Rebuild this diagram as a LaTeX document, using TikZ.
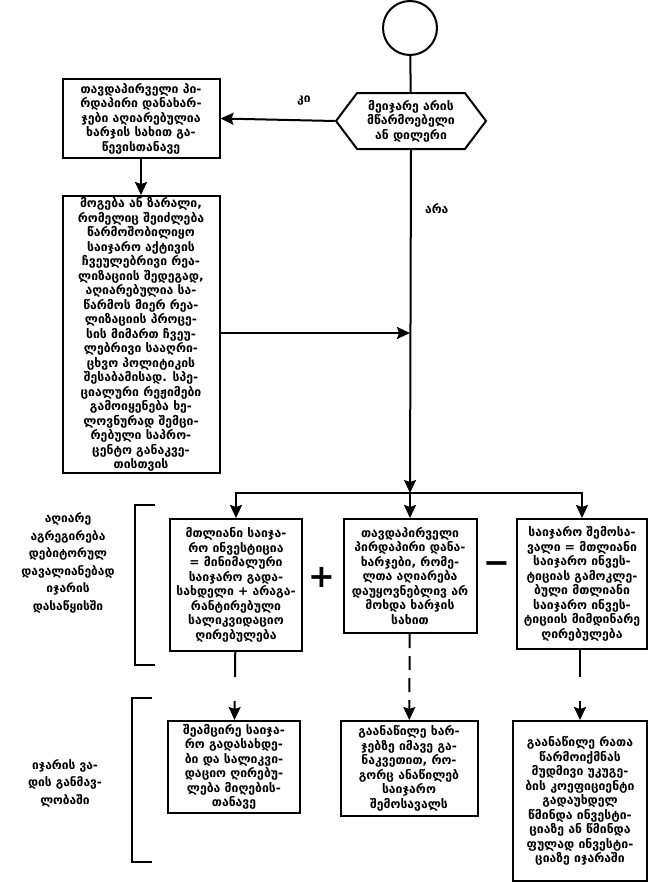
\documentclass[tikz,border=0pt]{standalone}
\usepackage{fontspec}
\newfontfamily\geo{DejaVu Sans}
\usetikzlibrary {arrows.meta,
                 positioning,
                 shapes.symbols}
\tikzset{
        base/.style={draw, line width=2pt, align=center, inner sep=1pt,
                     font=\geo\bfseries\fontsize{12.2}{14.5}\selectfont},
        proc/.style={base, rectangle, anchor=north},
        test/.style={base, signal, signal to=west and east,
                     signal pointer angle=106},
        term/.style={base, circle},
        note/.style={align=center, font=\geo\bfseries\fontsize{12}{17.5}\selectfont},
        sign/.style={font=\geo\bfseries\fontsize{32}{32}\selectfont, inner sep=0pt},
        myarrow/.style={-{Stealth[length=13pt, width=12pt, inset=2pt]}, line width=2pt},
        bracket/.style={line width=2pt},
 }
\begin{document}
\begin{tikzpicture}[x=1pt, y=-1pt]
    \useasboundingbox (0,0) rectangle (653,883);

    \node[term, minimum size=54pt] (start) at (410,28) {};
    \node[test, minimum width=150pt, minimum height=56pt] (lessor) at (411,121)
        {მეიჯარე არის\\მწარმოებელი\\ან დილერი};

    \node[proc, minimum width=157pt, minimum height=79pt] (costs) at (141,78)
        {თავდაპირველი პი-\\რდაპირი დანახარ-\\ჯები აღიარებულია\\ხარჯის სახით გა-\\წევისთანავე};
    \node[proc, minimum width=157pt, minimum height=277pt, below=36pt of costs] (profit)
        {მოგება ან ზარალი,\\რომელიც შეიძლება\\წარმოშობილიყო\\საიჯარო აქტივის\\ჩვეულებრივი რეა-\\ლიზაციის შედეგად,\\აღიარებულია სა-\\წარმოს მიერ რეა-\\ლიზაციის პროცე-\\სის მიმართ ჩვეუ-\\ლებრივი სააღრი-\\ცხვო პოლიტიკის\\შესაბამისად. სპე-\\ციალური რეჟიმები\\გამოიყენება ხე-\\ლოვნურად შემცი-\\რებული საპრო-\\ცენტო განაკვე-\\თისთვის};

    % middle row
    \node[proc, minimum width=132pt, minimum height=132pt] (total) at (236,518)
        {მთლიანი საიჯა-\\რო ინვესტიცია\\= მინიმალური\\საიჯარო გადა-\\სახდელი + არაგა-\\რანტირებული\\სალიკვიდაციო\\ღირებულება};
    \node[proc, minimum width=133pt, minimum height=114pt] (initial) at (410,518)
        {თავდაპირველი\\პირდაპირი დანა-\\ხარჯები, რომე-\\ლთა აღიარება\\დაუყოვნებლივ არ\\მოხდა ხარჯის\\სახით};
    \node[proc, minimum width=130pt, minimum height=130pt] (income) at (582,518)
        {საიჯარო შემოსა-\\ვალი = მთლიანი\\საიჯარო ინვეს-\\ტიციას გამოკლე-\\ბული მთლიანი\\საიჯარო ინვეს-\\ტიციის მიმდინარე\\ღირებულება};
    \node[sign] (plus) at (322,577) {+};
    \node[sign] (minus) at (497,568) {−};

    % bottom row
    \node[proc, minimum width=132pt, minimum height=92pt] (reduce) at (234,720)
        {შეამცირე საიჯა-\\რო გადასახდე-\\ბი და სალიკვი-\\დაციო ღირებუ-\\ლება მიღების-\\თანავე};
    \node[proc, minimum width=137pt, minimum height=95pt] (spread) at (409,720)
        {გაანაწილე ხარ-\\ჯებზე იმავე გა-\\ნაკვეთით, რო-\\გორც ანაწილებ\\საიჯარო\\შემოსავალს};
    \node[proc, minimum width=134pt, minimum height=160pt] (allocate) at (580,720)
        {გაანაწილე რათა\\წარმოიქმნას\\მუდმივი უკუგე-\\ბის კოეფიციენტი\\გადაუხდელ\\წმინდა ინვესტი-\\ციაზე ან წმინდა\\ფულად ინვესტი-\\ციაზე იჯარაში};

    % side labels
    \node[note] (atstart) at (68,563)
        {აღიარე\\აგრეგირება\\დებიტორულ\\დავალიანებად\\იჯარის\\დასაწყისში};
    \node[note] (overterm) at (65,783) {იჯარის ვა-\\დის განმავ-\\ლობაში};
    \draw[bracket] (155,505) -- (135,505) -- (135,665) -- (155,665);
    \draw[bracket] (152,698) -- (132,698) -- (132,862) -- (152,862);

    % connectors
    \coordinate (join) at (410,333);
    \coordinate (split) at (410,493);
    \draw[line width=2pt] (start) -- (lessor);
    \draw[myarrow] (lessor.west) -- (costs.east) node[pos=0.27, above=11pt, note] (yes) {კი};
    \draw[myarrow] (costs) -- (profit);
    \draw[myarrow] (profit.east |- join) -- (join);
    \draw[myarrow] (lessor.south) -- (split) node[pos=0.17, right=10pt, note] (no) {არა};
    \draw[myarrow] (split) -| (total.north);
    \draw[myarrow] (split) -- (initial.north);
    \draw[myarrow] (split) -| (income.north);

    \draw[myarrow, dash pattern=on 25pt off 24pt on 40pt] (total) -- (reduce);
    \draw[myarrow, dash pattern=on 14pt off 8pt] (initial) -- (spread);
    \draw[myarrow, dash pattern=on 27pt off 24pt on 40pt] (income.south -| allocate) -- (allocate);

\end{tikzpicture}
\end{document}
